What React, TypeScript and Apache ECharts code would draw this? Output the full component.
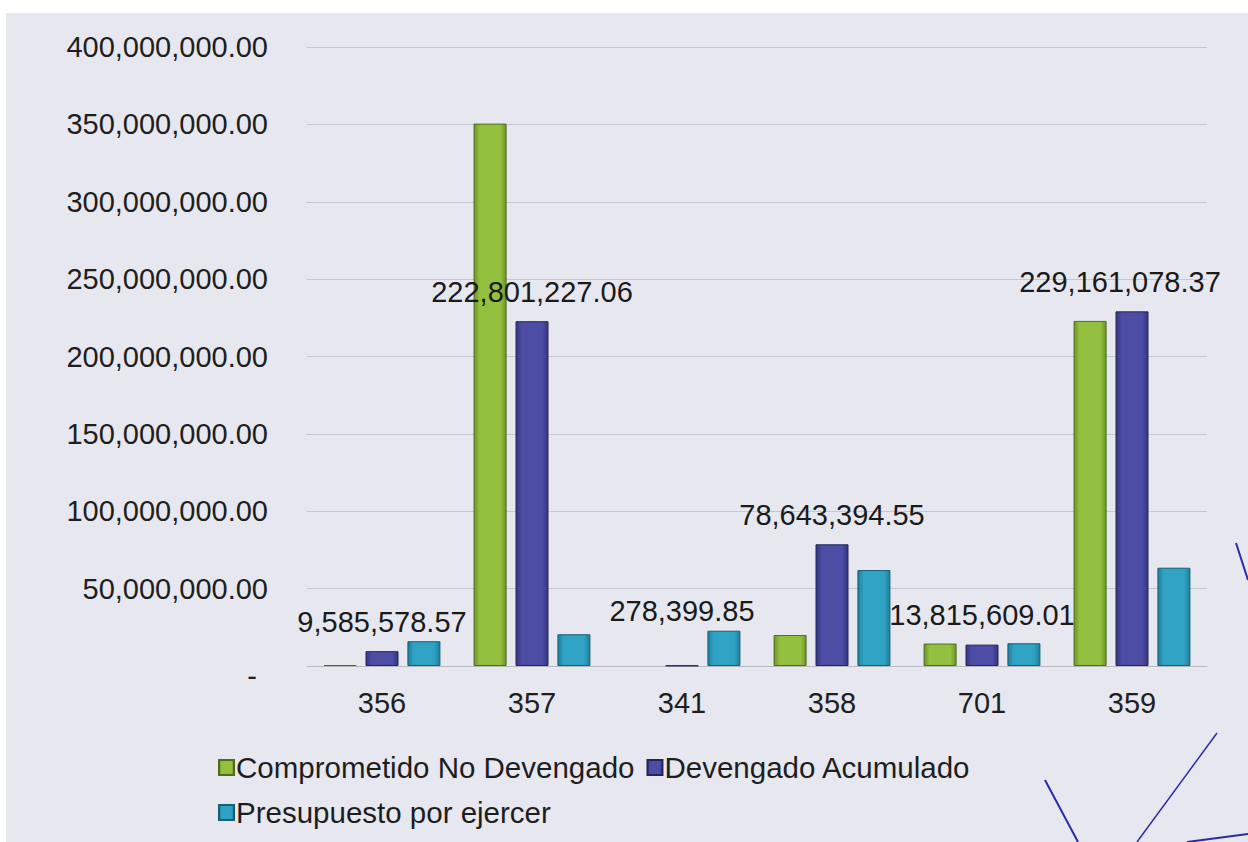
import React, { useEffect, useRef } from "react";
import * as echarts from "echarts";

const categories = ["356", "357", "341", "358", "701", "359"];
const comprometido = [600000, 350500000, null, 20000000, 14500000, 223000000];
const devengado = [9585578.57, 222801227.06, 278399.85, 78643394.55, 13815609.01, 229161078.37];
const presupuesto = [16000000, 20500000, 22800000, 62000000, 14700000, 63500000];
const yTicks = { min: 0, max: 400000000, interval: 50000000 };
// label nudges (style only)
const labelOffsets = [[0, 0], [0, 0], [0, -25], [0, 0], [0, 0], [-12, 0]];

const FONT = "'Liberation Sans', Arial, sans-serif";

const fmt = (v: number) =>
  v.toLocaleString("en-US", { minimumFractionDigits: 2, maximumFractionDigits: 2 });

const grad = (edge: string, mid: string) =>
  new echarts.graphic.LinearGradient(0, 0, 1, 0, [
    { offset: 0, color: edge },
    { offset: 0.18, color: mid },
    { offset: 0.82, color: mid },
    { offset: 1, color: edge },
  ]);

export default function App() {
  const ref = useRef<HTMLDivElement>(null);
  useEffect(() => {
    if (!ref.current) return;
    const chart = echarts.init(ref.current, null, { renderer: "svg" });
    const penLine = (x1: number, y1: number, x2: number, y2: number, w = 2) => ({
      type: "line",
      shape: { x1, y1, x2, y2 },
      style: { stroke: "#2b2ba8", lineWidth: w },
      silent: true,
      z: 100,
    });
    chart.setOption({
      animation: false,
      backgroundColor: "#ffffff",
      textStyle: { fontFamily: FONT },
      graphic: [
        {
          type: "rect",
          shape: { x: 6, y: 13, width: 1242, height: 829 },
          style: { fill: "#e7e7ef" },
          silent: true,
          z: -10,
        },
        penLine(1236, 543, 1248, 580),
        penLine(1045, 780, 1078, 842),
        penLine(1217, 733, 1137, 842, 1.5),
        penLine(1187, 842, 1248, 834),
      ],
      grid: { left: 307, right: 41, top: 47, bottom: 176, containLabel: false },
      legend: {
        left: 213,
        top: 746,
        width: 820,
        orient: "horizontal",
        icon: "rect",
        itemWidth: 15,
        itemHeight: 15,
        itemGap: 12,
        textStyle: { fontSize: 29.5, color: "#1e1e1e", fontFamily: FONT, lineHeight: 33, padding: [0, 0, 0, -3] },
        data: ["Comprometido No Devengado", "Devengado Acumulado", "Presupuesto por ejercer"],
      },
      xAxis: {
        type: "category",
        data: categories,
        axisLine: { show: true, lineStyle: { color: "#b9b9c2", width: 1 } },
        axisTick: { show: false },
        axisLabel: { fontSize: 29, color: "#1e1e1e", margin: 22, fontFamily: FONT },
      },
      yAxis: {
        type: "value",
        min: yTicks.min,
        max: yTicks.max,
        interval: yTicks.interval,
        axisLine: { show: false },
        axisTick: { show: false },
        splitLine: { lineStyle: { color: "#c6c6ce", width: 1 } },
        axisLabel: {
          fontSize: 29,
          color: "#1e1e1e",
          margin: 39,
          fontFamily: FONT,
          formatter: (v: number) => (v === 0 ? "{d|-}" : fmt(v)),
          rich: { d: { fontSize: 29, color: "#1e1e1e", padding: [20, 11, 0, 0], fontFamily: FONT } },
        },
      },
      series: [
        {
          name: "Comprometido No Devengado",
          type: "bar",
          data: comprometido,
          barWidth: 33,
          barGap: "27%",
          itemStyle: { color: grad("#6f9428", "#93c13f"), borderColor: "#4f6b1c", borderWidth: 1 },
        },
        {
          name: "Devengado Acumulado",
          type: "bar",
          data: devengado.map((v, i) => ({
            value: v,
            label: { offset: labelOffsets[i] },
          })),
          barWidth: 33,
          barGap: "27%",
          itemStyle: { color: grad("#35357e", "#4d4da6"), borderColor: "#25255e", borderWidth: 1 },
          label: {
            show: true,
            position: "top",
            distance: 15,
            fontSize: 29,
            color: "#1a1a1a",
            fontFamily: FONT,
            formatter: (p: any) => fmt(p.value),
          },
        },
        {
          name: "Presupuesto por ejercer",
          type: "bar",
          data: presupuesto,
          barWidth: 33,
          barGap: "27%",
          itemStyle: { color: grad("#1f7f9c", "#30a2c3"), borderColor: "#175f75", borderWidth: 1 },
        },
      ],
    });
    return () => chart.dispose();
  }, []);
  return (
    <div
      ref={ref}
      style={{ position: "fixed", left: 0, top: 0, width: 1248, height: 842 }}
    />
  );
}
